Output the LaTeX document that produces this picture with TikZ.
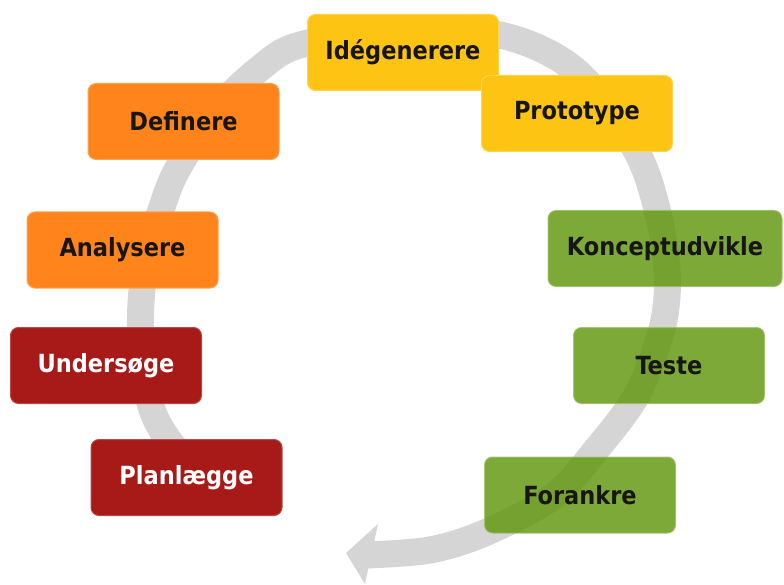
\documentclass[tikz,border=0pt]{standalone}
\usepackage{fontspec}
\newfontfamily\boxfont{DejaVu Sans Condensed}
\definecolor{cyclegray}{RGB}{213,213,214}
\definecolor{stepyellow}{RGB}{254,196,20}
\definecolor{steporange}{RGB}{255,132,28}
\definecolor{stepred}{RGB}{168,26,24}
\definecolor{stepgreen}{RGB}{92,148,6}
\definecolor{inkdark}{RGB}{24,22,20}
\begin{document}
\begin{tikzpicture}[x=1pt,y=-1pt,
  phase/.style={rounded corners=8pt, minimum width=191pt, minimum height=76pt,
    inner sep=0pt, font=\boxfont\bfseries\fontsize{25}{30}\selectfont},
  yellowphase/.style={phase, fill=stepyellow, draw=stepyellow!75!white, line width=1pt, text=inkdark},
  orangephase/.style={phase, fill=steporange, draw=steporange!75!white, line width=1pt, text=inkdark},
  redphase/.style={phase, fill=stepred, draw=stepred!80!white, line width=1pt, text=white},
  greenphase/.style={phase, fill=stepgreen, fill opacity=0.8, text opacity=1,
    draw=stepgreen!60!white, draw opacity=0.8, line width=1pt, text=inkdark},
  cycleband/.style={draw=cyclegray, line width=27pt, line cap=butt}
]
\useasboundingbox (0,0) rectangle (784,585);

% circular process arrow behind the phases
\draw[cycleband] plot[smooth, tension=0.55] coordinates {
  (215,492) (170,442) (150,403) (141,340) (142,290) (150,245) (161,210)
  (177,170) (215,112) (258,70) (300,45) (400,31) (500,35) (575,70)
  (633,145) (656,205) (667,270) (664,320) (648,370) (632,403) (600,445)
  (555,495) (487,532) (430,550) (366,555)};
\fill[cyclegray] (378,524) -- (346,553) -- (365,584) -- cycle;

% phases
\node[yellowphase] (ide)   at (403,52.5)  {Idégenerere};
\node[yellowphase] (proto) at (577,113.5) {Prototype};
\node[orangephase] (def)   at (183.5,121.5) {Definere};
\node[orangephase] (ana)   at (122.5,250) {Analysere};
\node[redphase]    (und)   at (106,365.5) {Undersøge};
\node[redphase]    (plan)  at (186.5,477.5) {Planlægge};
\node[greenphase, minimum width=234pt] (konc) at (665,248.5) {Konceptudvikle};
\node[greenphase]  (teste) at (669,365.5) {Teste};
\node[greenphase]  (fora)  at (580,495)   {Forankre};
\end{tikzpicture}
\end{document}
